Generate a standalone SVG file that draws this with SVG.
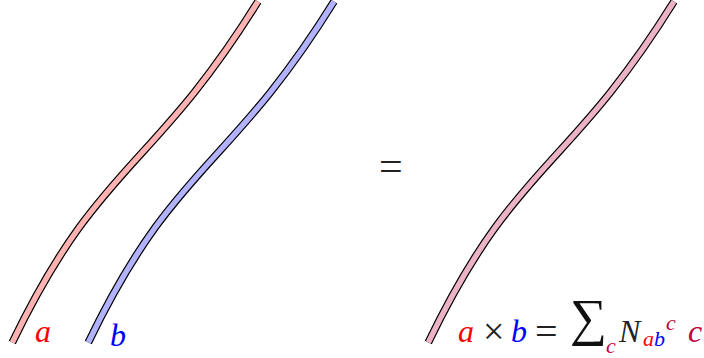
<svg xmlns="http://www.w3.org/2000/svg" width="704" height="358" viewBox="0 0 704 358">
<style>
.t{font-family:"Liberation Serif",serif}
.k{fill:none;stroke:#000;stroke-width:7.8}
.f{fill:none;stroke-width:5.4}
</style>
<g id="connectors"/>
<g id="strand-a">
<path class="k" d="M12.3,342.5 C99.6,161.2 152,172.1 258,1.5"/>
<path class="f" stroke="#ffb2b2" d="M12.3,342.5 C99.6,161.2 152,172.1 258,1.5"/>
</g>
<g id="strand-b" transform="translate(76,0)">
<path class="k" d="M12.3,342.5 C99.6,161.2 152,172.1 258,1.5"/>
<path class="f" stroke="#b2b2ff" d="M12.3,342.5 C99.6,161.2 152,172.1 258,1.5"/>
</g>
<g id="strand-c" transform="translate(416,0)">
<path class="k" d="M12.3,342.5 C99.6,161.2 152,172.1 258,1.5"/>
<path class="f" stroke="#ecb2c6" d="M12.3,342.5 C99.6,161.2 152,172.1 258,1.5"/>
</g>
<g id="label-a"><text class="t" font-style="italic" font-size="32" x="35" y="342" fill="#ff0000">a</text></g>
<g id="label-b"><text class="t" font-style="italic" font-size="32" x="110" y="346" fill="#0000ff">b</text></g>
<g id="equals"><text class="t" font-size="42" x="379" y="180" fill="#222">=</text></g>
<g id="formula" class="t" font-size="32">
<text font-style="italic" x="458" y="342" fill="#ff0000">a</text>
<text x="483" y="344" font-size="38" fill="#222">×</text>
<text font-style="italic" x="511" y="342" fill="#0000ff">b</text>
<text x="535" y="344.5" font-size="40" fill="#222">=</text>
<text x="570" y="335" font-size="52" fill="#111">∑</text>
<text font-style="italic" font-size="22" x="606" y="353" fill="#bf0040">c</text>
<text font-style="italic" x="619" y="342" fill="#222">N</text>
<text font-style="italic" font-size="22" x="643" y="346" fill="#ff0000">a</text>
<text font-style="italic" font-size="22" x="654" y="346" fill="#0000ff">b</text>
<text font-style="italic" font-size="22" x="666" y="330" fill="#bf0040">c</text>
<text font-style="italic" x="688" y="342" fill="#bf0040">c</text>
</g>
</svg>
